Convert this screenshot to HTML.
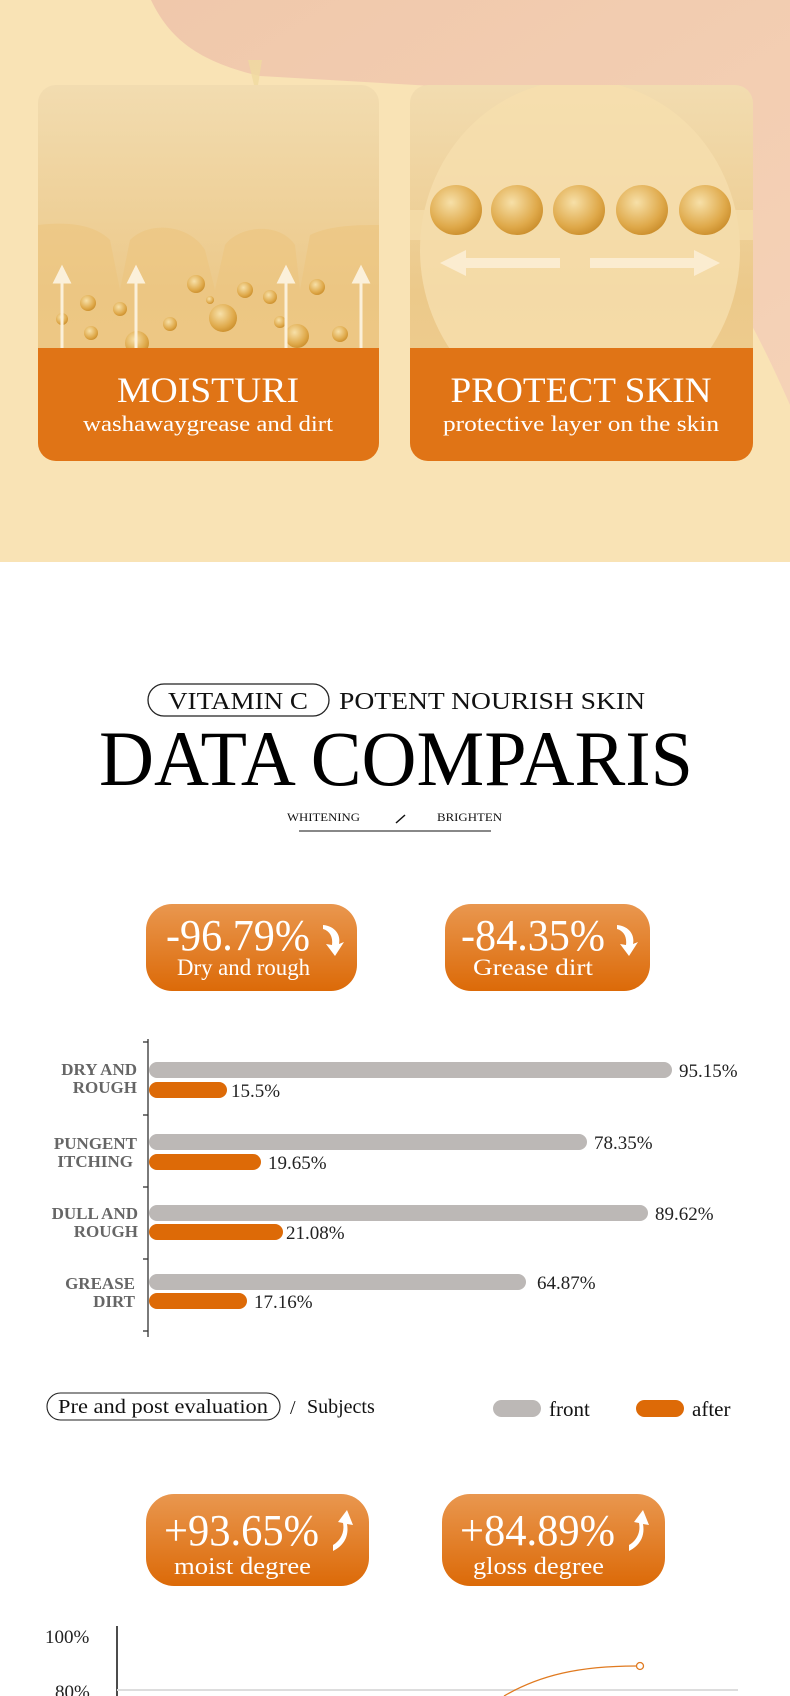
<!DOCTYPE html>
<html><head><meta charset="utf-8"><style>
html,body{margin:0;padding:0;background:#fff;width:790px;height:1696px;overflow:hidden}
svg{display:block}
text{font-family:"Liberation Serif",serif}
</style></head><body>
<svg width="790" height="1696" viewBox="0 0 790 1696" xmlns="http://www.w3.org/2000/svg">
<defs>
<linearGradient id="skin" x1="0" y1="0" x2="1" y2="1">
<stop offset="0" stop-color="#f0c8ab"/><stop offset="1" stop-color="#f5d2b7"/></linearGradient>
<linearGradient id="img1" x1="0" y1="0" x2="0" y2="1">
<stop offset="0" stop-color="#f2dcb0"/><stop offset="0.55" stop-color="#ecc98a"/><stop offset="1" stop-color="#f0cf92"/></linearGradient>
<linearGradient id="badge" x1="0" y1="0" x2="0" y2="1">
<stop offset="0" stop-color="#e9974f"/><stop offset="1" stop-color="#dc6a08"/></linearGradient>
<radialGradient id="ball" cx="0.4" cy="0.35" r="0.7">
<stop offset="0" stop-color="#f7e0a8"/><stop offset="0.7" stop-color="#dfa94a"/><stop offset="1" stop-color="#c98c2a"/></radialGradient>
</defs>
<rect x="0" y="0" width="790" height="562" fill="#f9e3b5"/>
<path d="M151,0 C170,40 200,62 260,76 L433,86 C600,92 700,200 790,405 L790,0 Z" fill="url(#skin)"/>
<path d="M248,60 L254,85 L258,85 L262,60 Z" fill="#f0d9a0" opacity="0.8"/>

<g>
<clipPath id="c1"><rect x="38" y="85" width="341" height="376" rx="18"/></clipPath>
<g clip-path="url(#c1)">
<rect x="38" y="85" width="341" height="376" fill="url(#img1)"/>
<path d="M38,225 C80,220 100,230 110,240 L120,290 L130,240 C150,220 190,225 205,250 L215,290 L225,245 C240,225 280,222 295,245 L300,290 L310,235 C330,225 360,225 379,225 L379,348 L38,348 Z" fill="#edc47e" opacity="0.6"/>
<g fill="url(#ball)">
<circle cx="88" cy="303" r="8"/><circle cx="62" cy="319" r="6"/><circle cx="91" cy="333" r="7"/>
<circle cx="120" cy="309" r="7"/><circle cx="137" cy="343" r="12"/><circle cx="170" cy="324" r="7"/>
<circle cx="196" cy="284" r="9"/><circle cx="223" cy="318" r="14"/><circle cx="245" cy="290" r="8"/>
<circle cx="270" cy="297" r="7"/><circle cx="280" cy="322" r="6"/><circle cx="297" cy="336" r="12"/>
<circle cx="317" cy="287" r="8"/><circle cx="340" cy="334" r="8"/><circle cx="210" cy="300" r="4"/>
</g>
<g stroke="#fbf0da" stroke-width="3" fill="#fbf0da">
<line x1="62" y1="348" x2="62" y2="278"/><path d="M55,282 L62,268 L69,282Z"/>
<line x1="136" y1="348" x2="136" y2="278"/><path d="M129,282 L136,268 L143,282Z"/>
<line x1="286" y1="348" x2="286" y2="278"/><path d="M279,282 L286,268 L293,282Z"/>
<line x1="361" y1="348" x2="361" y2="278"/><path d="M354,282 L361,268 L368,282Z"/>
</g>
<rect x="38" y="348" width="341" height="113" fill="#e07416"/>
</g>
<text x="208" y="402" text-anchor="middle" font-size="36" fill="#fff" textLength="182" lengthAdjust="spacingAndGlyphs">MOISTURI</text>
<text x="208" y="431" text-anchor="middle" font-size="22" fill="#fff" textLength="250" lengthAdjust="spacingAndGlyphs">washawaygrease and dirt</text>
</g>

<g>
<clipPath id="c2"><rect x="410" y="85" width="343" height="376" rx="18"/></clipPath>
<g clip-path="url(#c2)">
<rect x="410" y="85" width="343" height="376" fill="url(#img1)"/>
<ellipse cx="580" cy="250" rx="160" ry="170" fill="#f6dfae" opacity="0.8"/>
<rect x="410" y="210" width="343" height="30" fill="#f4dcaa" opacity="0.8"/>
<g fill="url(#ball)">
<ellipse cx="456" cy="210" rx="26" ry="25"/><ellipse cx="517" cy="210" rx="26" ry="25"/>
<ellipse cx="579" cy="210" rx="26" ry="25"/><ellipse cx="642" cy="210" rx="26" ry="25"/>
<ellipse cx="705" cy="210" rx="26" ry="25"/>
</g>
<g fill="#fbecd0">
<path d="M440,263 L466,250 L466,258 L560,258 L560,268 L466,268 L466,276 Z"/>
<path d="M720,263 L694,250 L694,258 L590,258 L590,268 L694,268 L694,276 Z"/>
</g>
<rect x="410" y="348" width="343" height="113" fill="#e07416"/>
</g>
<text x="581" y="402" text-anchor="middle" font-size="36" fill="#fff" textLength="261" lengthAdjust="spacingAndGlyphs">PROTECT SKIN</text>
<text x="581" y="431" text-anchor="middle" font-size="22" fill="#fff" textLength="276" lengthAdjust="spacingAndGlyphs">protective layer on the skin</text>
</g>

<rect x="148" y="684" width="181" height="32" rx="16" fill="none" stroke="#222" stroke-width="1.3"/>
<text x="238" y="709" text-anchor="middle" font-size="24" fill="#111" textLength="140" lengthAdjust="spacingAndGlyphs">VITAMIN C</text>
<text x="339" y="709" font-size="24" fill="#111" textLength="306" lengthAdjust="spacingAndGlyphs">POTENT NOURISH SKIN</text>
<text x="396" y="785" text-anchor="middle" font-size="78" fill="#000" textLength="594" lengthAdjust="spacingAndGlyphs">DATA COMPARIS</text>
<text x="287" y="821" font-size="12" fill="#111" textLength="73" lengthAdjust="spacingAndGlyphs">WHITENING</text>
<line x1="396" y1="823" x2="405" y2="815" stroke="#111" stroke-width="1.5"/>
<text x="437" y="821" font-size="12" fill="#111" textLength="65" lengthAdjust="spacingAndGlyphs">BRIGHTEN</text>
<line x1="299" y1="831" x2="491" y2="831" stroke="#111" stroke-width="1"/>

<rect x="146" y="904" width="211" height="87" rx="26" fill="url(#badge)"/>
<text x="166" y="950" font-size="44" fill="#fff" textLength="144" lengthAdjust="spacingAndGlyphs">-96.79%</text>
<text x="177" y="975" font-size="23" fill="#fff" textLength="133" lengthAdjust="spacingAndGlyphs">Dry and rough</text>
<path d="M323,925 C335,926 341,935 339,944 L344,942 L335,956 L326,944 L332,945 C333,937 330,931 323,929 Z" fill="#fff"/>
<rect x="445" y="904" width="205" height="87" rx="26" fill="url(#badge)"/>
<text x="461" y="950" font-size="44" fill="#fff" textLength="144" lengthAdjust="spacingAndGlyphs">-84.35%</text>
<text x="473" y="975" font-size="23" fill="#fff" textLength="120" lengthAdjust="spacingAndGlyphs">Grease dirt</text>
<path d="M617,925 C629,926 635,935 633,944 L638,942 L629,956 L620,944 L626,945 C627,937 624,931 617,929 Z" fill="#fff"/>

<g stroke-linecap="round" stroke-width="16">
<line x1="157" y1="1070" x2="664" y2="1070" stroke="#bcb8b6"/>
<line x1="157" y1="1090" x2="219" y2="1090" stroke="#dd6a07"/>
<line x1="157" y1="1142" x2="579" y2="1142" stroke="#bcb8b6"/>
<line x1="157" y1="1162" x2="253" y2="1162" stroke="#dd6a07"/>
<line x1="157" y1="1213" x2="640" y2="1213" stroke="#bcb8b6"/>
<line x1="157" y1="1232" x2="275" y2="1232" stroke="#dd6a07"/>
<line x1="157" y1="1282" x2="518" y2="1282" stroke="#bcb8b6"/>
<line x1="157" y1="1301" x2="239" y2="1301" stroke="#dd6a07"/>
</g>
<g fill="#fff"><rect x="140" y="1055" width="9" height="260"/></g>
<line x1="148" y1="1039" x2="148" y2="1337" stroke="#333" stroke-width="1.3"/>
<g stroke="#333" stroke-width="1.3">
<line x1="143" y1="1042" x2="148" y2="1042"/><line x1="143" y1="1115" x2="148" y2="1115"/>
<line x1="143" y1="1187" x2="148" y2="1187"/><line x1="143" y1="1259" x2="148" y2="1259"/>
<line x1="143" y1="1331" x2="148" y2="1331"/></g>
<g font-size="19" fill="#222">
<text x="679" y="1077">95.15%</text><text x="231" y="1097">15.5%</text>
<text x="594" y="1149">78.35%</text><text x="268" y="1169">19.65%</text>
<text x="655" y="1220">89.62%</text><text x="286" y="1239">21.08%</text>
<text x="537" y="1289">64.87%</text><text x="254" y="1308">17.16%</text>
</g>
<g font-size="17" fill="#666" text-anchor="end" font-weight="bold">
<text x="137" y="1075">DRY AND</text><text x="137" y="1093">ROUGH</text>
<text x="137" y="1149">PUNGENT</text><text x="133" y="1167">ITCHING</text>
<text x="138" y="1219">DULL AND</text><text x="138" y="1237">ROUGH</text>
<text x="135" y="1289">GREASE</text><text x="135" y="1307">DIRT</text>
</g>

<rect x="47" y="1393" width="233" height="27" rx="13.5" fill="none" stroke="#222" stroke-width="1.1"/>
<text x="58" y="1413" font-size="20" fill="#111" textLength="210" lengthAdjust="spacingAndGlyphs">Pre and post evaluation</text>
<text x="290" y="1414" font-size="20" fill="#111">/</text>
<text x="307" y="1413" font-size="20" fill="#111">Subjects</text>
<rect x="493" y="1400" width="48" height="17" rx="8.5" fill="#bcb8b6"/>
<text x="549" y="1416" font-size="21" fill="#111">front</text>
<rect x="636" y="1400" width="48" height="17" rx="8.5" fill="#dd6a07"/>
<text x="692" y="1416" font-size="21" fill="#111">after</text>

<rect x="146" y="1494" width="223" height="92" rx="28" fill="url(#badge)"/>
<text x="164" y="1545" font-size="44" fill="#fff" textLength="155" lengthAdjust="spacingAndGlyphs">+93.65%</text>
<text x="174" y="1574" font-size="24" fill="#fff" textLength="137" lengthAdjust="spacingAndGlyphs">moist degree</text>
<path d="M333,1551 C345,1545 349,1535 347,1524 L353,1525 L347,1510 L338,1522 L343,1523 C345,1533 340,1541 333,1545 Z" fill="#fff"/>
<rect x="442" y="1494" width="223" height="92" rx="28" fill="url(#badge)"/>
<text x="460" y="1545" font-size="44" fill="#fff" textLength="155" lengthAdjust="spacingAndGlyphs">+84.89%</text>
<text x="473" y="1574" font-size="24" fill="#fff" textLength="131" lengthAdjust="spacingAndGlyphs">gloss degree</text>
<path d="M629,1551 C641,1545 645,1535 643,1524 L649,1525 L643,1510 L634,1522 L639,1523 C641,1533 636,1541 629,1545 Z" fill="#fff"/>

<line x1="117" y1="1626" x2="117" y2="1696" stroke="#111" stroke-width="1.5"/>
<line x1="117" y1="1690" x2="738" y2="1690" stroke="#ddd" stroke-width="2"/>
<text x="45" y="1643" font-size="19" fill="#222">100%</text>
<text x="55" y="1698" font-size="19" fill="#222">80%</text>
<path d="M504,1696 C540,1675 580,1666 636,1666" fill="none" stroke="#e07a20" stroke-width="1.3"/>
<circle cx="640" cy="1666" r="3.5" fill="#fff" stroke="#e07a20" stroke-width="1.3"/>
</svg>
</body></html>
